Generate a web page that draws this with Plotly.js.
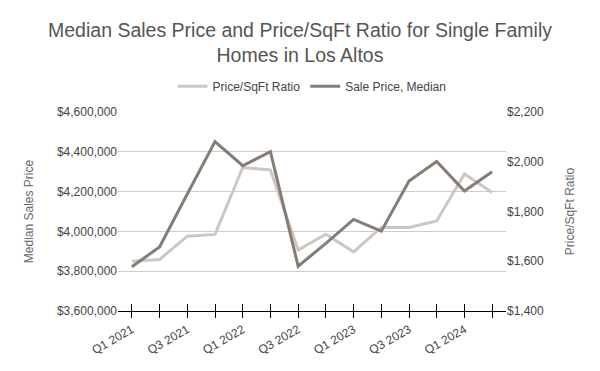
<!DOCTYPE html>
<html>
<head>
<meta charset="utf-8">
<script src="https://cdn.plot.ly/plotly-3.0.1.min.js"></script>
<style>html,body{margin:0;padding:0;background:#fff;}#chart{width:600px;height:371px;}</style>
</head>
<body>
<div id="chart"></div>
<script>
const quarters = ["Q1 2021","Q2 2021","Q3 2021","Q4 2021","Q1 2022","Q2 2022","Q3 2022","Q4 2022","Q1 2023","Q2 2023","Q3 2023","Q4 2023","Q1 2024","Q2 2024"];
const pricePerSqFt = [1600,1607,1701,1708,1977,1967,1645,1709,1638,1736,1736,1762,1951,1876];
const medianSalePrice = [3822000,3922000,4188000,4451000,4330000,4401000,3825000,3940000,4060000,4001000,4253000,4351000,4203000,4300000];
const tickLabels = ["Q1 2021","","Q3 2021","","Q1 2022","","Q3 2022","","Q1 2023","","Q3 2023","","Q1 2024",""];

const font = "Liberation Sans, Arial, sans-serif";
const data = [
  // helper trace: a thin strip subplot whose vertical gridlines form the upper half of the crossing tick marks
  {x: quarters, y: quarters.map(() => 0.5), xaxis: "x3", yaxis: "y3", type: "scatter", mode: "markers",
   marker: {size: 1, color: "rgba(0,0,0,0)"}, showlegend: false, hoverinfo: "skip"},
  {x: quarters, y: pricePerSqFt, name: "Price/SqFt Ratio", type: "scatter", mode: "lines",
   line: {color: "#cdc7c3", width: 3}, yaxis: "y", xaxis: "x"},
  {x: quarters, y: medianSalePrice, name: "Sale Price, Median", type: "scatter", mode: "lines",
   line: {color: "#857c74", width: 3}, yaxis: "y2", xaxis: "x"}
];
const layout = {
  width: 600, height: 371,
  margin: {l: 118, r: 94, t: 112, b: 60},
  paper_bgcolor: "#fff", plot_bgcolor: "rgba(0,0,0,0)",
  font: {family: font, size: 12, color: "#444"},
  title: {text: "Median Sales Price and Price/SqFt Ratio for Single Family<br>Homes in Los Altos",
          font: {family: font, size: 19.5, color: "#555"}, x: 0.5, xanchor: "center",
          yref: "container", y: 0.9, yanchor: "top"},
  showlegend: true,
  legend: {orientation: "h", x: 0.5, xanchor: "center", y: 1.13, yanchor: "middle",
           font: {family: font, size: 12, color: "#444"}, itemwidth: 30, traceorder: "normal"},
  xaxis: {type: "category", range: [-0.5, 13.5], showline: true, linecolor: "#000", linewidth: 1,
          ticks: "outside", ticklen: 6, tickcolor: "#000", tickwidth: 1,
          tickmode: "array", tickvals: quarters, ticktext: tickLabels, tickangle: -30,
          showgrid: false, zeroline: false, tickfont: {size: 12, color: "#444"}},
  xaxis3: {type: "category", anchor: "y3", domain: [0, 1], range: [-0.5, 13.5], showline: false,
           ticks: "", showticklabels: false, tickmode: "array", tickvals: quarters,
           showgrid: true, gridcolor: "#000", gridwidth: 1, zeroline: false},
  yaxis3: {anchor: "x3", domain: [0, 0.036], range: [0, 1], showticklabels: false, showgrid: false, zeroline: false, ticks: ""},
  yaxis: {side: "right", range: [1400, 2200], dtick: 200, tick0: 1400, tickformat: "$,.0f",
          showgrid: false, zeroline: false, showline: false, ticks: "",
          title: {text: "Price/SqFt Ratio", font: {size: 12, color: "#666"}, standoff: 22}},
  yaxis2: {side: "left", overlaying: "y", range: [3600000, 4600000], dtick: 200000, tick0: 3600000,
           tickformat: "$,.0f", showgrid: true, gridcolor: "#cccccc", gridwidth: 1, zeroline: false,
           showline: false, ticks: "",
           title: {text: "Median Sales Price", font: {size: 12, color: "#666"}, standoff: 20}}
};
Plotly.newPlot("chart", data, layout, {displayModeBar: false, staticPlot: true});
</script>
</body>
</html>
